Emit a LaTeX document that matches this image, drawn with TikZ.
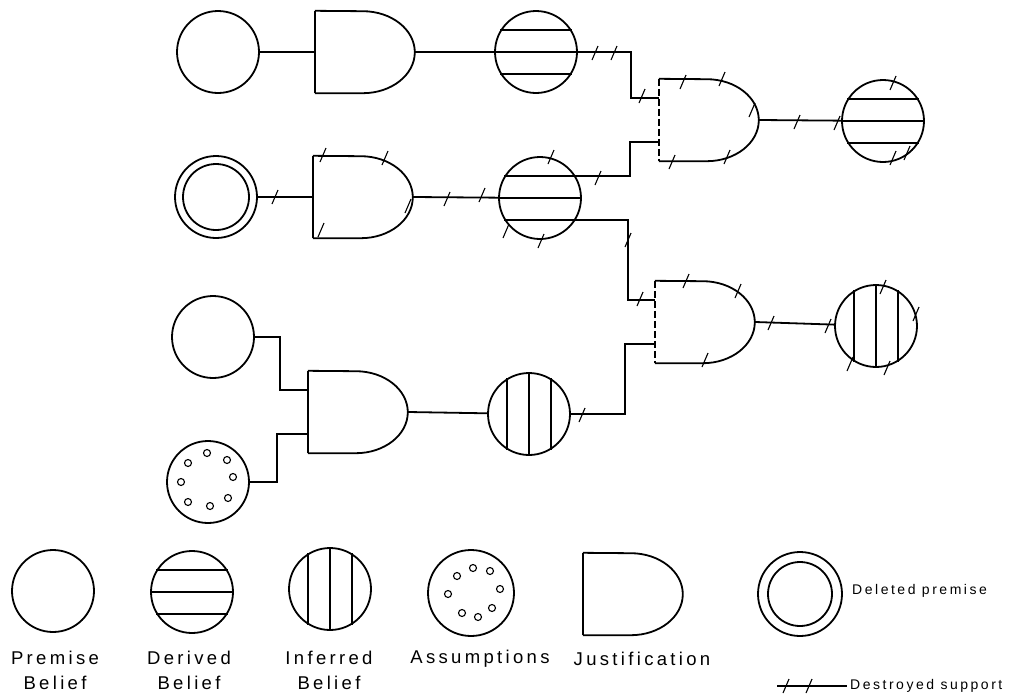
\documentclass[tikz,border=0pt]{standalone}
\usepackage{fontspec}
\newfontfamily\legendfont[LetterSpace=18]{Liberation Sans}
\usetikzlibrary{calc}

\tikzset{
  wire/.style={line width=1.8pt},
  belief/.style={circle, draw, line width=1.8pt, minimum size=82pt, inner sep=0pt},
  gatebox/.style={rectangle, draw=none, minimum width=100pt, minimum height=82pt, inner sep=0pt},
  gateline/.style={line width=1.8pt, line join=round},
  hatch/.style={line width=1.6pt},
  cutmark/.style={line width=1.1pt},
  ringdot/.style={line width=1.1pt},
  legendtext/.style={font=\legendfont\fontsize{18.5}{25}\selectfont, align=center, inner sep=0pt},
  smalltext/.style={font=\legendfont\fontsize{14}{16}\selectfont, inner sep=0pt},
  pics/slash/.style={code={\draw[cutmark] (-3,7) -- (3,-7);}},
}

% justification: flat back, rounded front
\newcommand\gateshape[2]{%
  \draw[gateline] (#1.south west) -- ++(48,0)
    arc[start angle=-90, end angle=90, x radius=52pt, y radius=41pt] -- (#1.north west);
  \draw[gateline,#2] (#1.north west) -- (#1.south west);}
% derived belief: three horizontal stripes
\newcommand\derivedstripes[1]{%
  \draw[hatch] (#1.148) -- (#1.32);
  \draw[hatch] (#1.180) -- (#1.0);
  \draw[hatch] (#1.-148) -- (#1.-32);}
% inferred belief: three vertical stripes
\newcommand\inferredstripes[1]{%
  \draw[hatch] (#1.122) -- (#1.-122);
  \draw[hatch] (#1.90) -- (#1.-90);
  \draw[hatch] (#1.58) -- (#1.-58);}

\begin{document}
\begin{tikzpicture}[x=1pt, y=-1pt]
\useasboundingbox (0,0) rectangle (1023,694);

% ---------- network ----------
\node[belief] (C1) at (218,52) {};
\node[gatebox] (G1) at (365,52) {};
\node[belief] (D1) at (536,52) {};

\node[belief] (DP) at (216,197) {};
\draw[wire] (DP) circle[radius=33pt];
\node[gatebox] (G2) at (363,197) {};
\node[belief] (D2) at (540,198) {};

\node[gatebox] (G3) at (709,120) {};
\node[belief] (D3) at (883,121) {};

\node[gatebox] (G4) at (705,322) {};
\node[belief] (I2) at (876,326) {};

\node[belief] (P3) at (213,337) {};
\node[belief] (A) at (208,482) {};
\node[gatebox] (G5) at (358,412) {};
\node[belief] (I1) at (529,414) {};

\gateshape{G1}{}
\gateshape{G2}{}
\gateshape{G3}{dash pattern=on 7pt off 3pt}
\gateshape{G4}{dash pattern=on 7pt off 3pt}
\gateshape{G5}{}

\derivedstripes{D1}
\derivedstripes{D2}
\derivedstripes{D3}
\inferredstripes{I1}
\inferredstripes{I2}

\foreach \dx/\dy in {-20/-19,-1/-29,19/-22,25/-5,20/16,2/24,-20/20,-27/0}
  \draw[ringdot] ($(A)+(\dx,\dy)$) circle[radius=3.5pt];

% gate inputs
\coordinate (G3in1) at ($(G3.west)+(0,-22)$);
\coordinate (G3in2) at ($(G3.west)+(0,22)$);
\coordinate (G4in1) at ($(G4.west)+(0,-22)$);
\coordinate (G4in2) at ($(G4.west)+(0,22)$);
\coordinate (G5in1) at ($(G5.west)+(0,-22)$);
\coordinate (G5in2) at ($(G5.west)+(0,22)$);

% support links
\draw[wire] (C1) -- (C1 -| G1.west);
\draw[wire] (G1.east) -- (D1);
\draw[wire] (DP) -- (G2.west);
\draw[wire] (G2.east) -- (D2);
\draw[wire] (D1.east) -| ($(G3in1)+(-28,0)$) -- (G3in1);
\draw[wire] (D2.32) -| ($(G3in2)+(-29,0)$) -- (G3in2);
\draw[wire] (D2.-32) -| ($(G4in1)+(-27,0)$) -- (G4in1);
\draw[wire] (I1.east) -| ($(G4in2)+(-30,0)$) -- (G4in2);
\draw[wire] (P3.east) -| ($(G5in1)+(-28,0)$) -- (G5in1);
\draw[wire] (A.east) -| ($(G5in2)+(-31,0)$) -- (G5in2);
\draw[wire] (G3.east) -- (D3);
\draw[wire] (G4.east) -- (I2);
\draw[wire] (G5.east) -- (I1);

% destroyed support marks
\foreach \sx/\sy in {
  595/53, 614/53, 642/96,
  275/197, 323/155, 385/158, 321/230, 408/206, 447/199, 482/195,
  551/157, 598/178, 506/231, 541/241, 628/240,
  683/82, 722/79, 752/110, 672/162, 727/157, 797/122, 837/123,
  893/83, 893/158, 907/153,
  640/299, 686/281, 738/291, 705/360, 771/323, 828/326,
  883/287, 850/364, 887/368, 916/314, 582/415}
  \pic at (\sx,\sy) {slash};

% ---------- legend ----------
\node[belief] (LP) at (53,591) {};
\node[belief] (LD) at (192,592) {};
\derivedstripes{LD}
\node[belief] (LI) at (330,589) {};
\inferredstripes{LI}
\node[belief, minimum size=86pt] (LA) at (471,593) {};
\foreach \dx/\dy in {-14/-17,2/-25,19/-22,29/-4,21/15,7/24,-9/20,-23/1}
  \draw[ringdot] ($(LA)+(\dx,\dy)$) circle[radius=3.5pt];
\node[gatebox] (LJ) at (633,594) {};
\gateshape{LJ}{}
\node[belief, minimum size=84pt] (LX) at (800,594) {};
\draw[wire] (LX) circle[radius=32pt];

\node[legendtext] (tP) at (55,670) {Premise\\Belief};
\node[legendtext] (tD) at (189,670) {Derived\\Belief};
\node[legendtext] (tI) at (329,670) {Inferred\\Belief};
\node[legendtext] (tA) at (480,659) {Assumptions};
\node[legendtext] (tJ) at (642,659) {Justification};
\node[smalltext, anchor=west] (tX) at (852,591) {Deleted premise};

\coordinate (ds1) at (777,686);
\coordinate (ds2) at (847,686);
\draw[line width=1.3pt] (ds1) -- (ds2);
\pic at (786,686) {slash};
\pic at (809,686) {slash};
\node[smalltext, anchor=west] (tS) at (850,686) {Destroyed support};
\end{tikzpicture}
\end{document}
